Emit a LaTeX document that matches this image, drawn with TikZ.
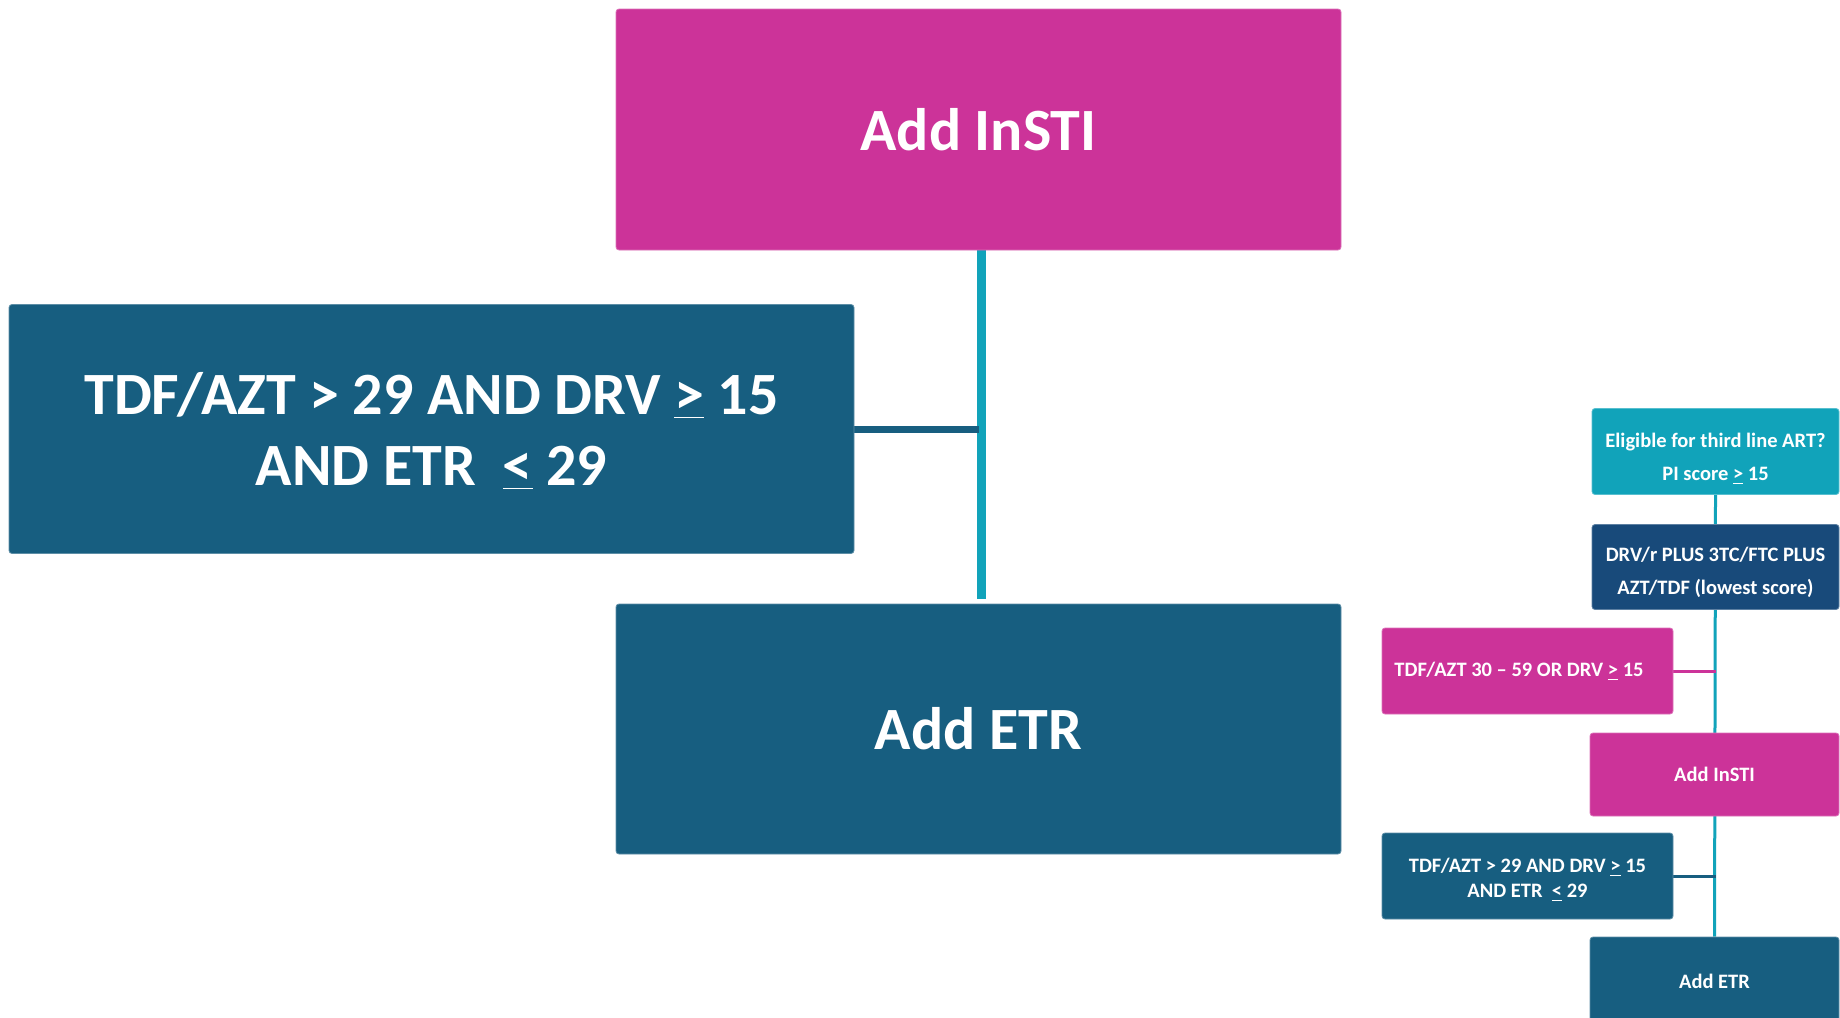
\documentclass[tikz,border=0pt]{standalone}
\usepackage{fontspec}
\setmainfont{Carlito}
\usetikzlibrary{backgrounds}
\definecolor{pinkc}{RGB}{204,51,153}
\definecolor{darkc}{RGB}{23,94,128}
\definecolor{navyc}{RGB}{24,74,122}
\definecolor{tealc}{RGB}{17,163,186}
\newcommand\dnshift[2]{\raisebox{-#1}[\height][\depth]{\begin{tabular}{@{}c@{}}#2\end{tabular}}}
\tikzset{
  box/.style={rectangle, rounded corners=1.5pt, inner sep=0pt, align=center, text=white},
  bigtxt/.style={font=\fontsize{30}{35.5}\selectfont\bfseries},
  smalltxt/.style={font=\fontsize{10.25}{12.5}\selectfont\bfseries},
  smalltxtw/.style={font=\fontsize{10.25}{16.5}\selectfont\bfseries},
  pinkbox/.style={box, fill=pinkc, draw=pinkc!70!white, line width=0.4pt},
  darkbox/.style={box, fill=darkc, draw=darkc!70!white, line width=0.4pt},
  navybox/.style={box, fill=navyc, draw=navyc!70!white, line width=0.4pt},
  tealbox/.style={box, fill=tealc, draw=tealc!70!white, line width=0.4pt},
}
\begin{document}
\begin{tikzpicture}[x=0.5pt, y=-0.5pt]
\clip (0,0) rectangle (1840,1017);
% big diagram
\node[pinkbox, bigtxt, minimum width=362.5pt, minimum height=120.5pt] (insti) at (978.5,129.5) {Add InSTI};
\node[darkbox, bigtxt, minimum width=422.5pt, minimum height=124.5pt] (cond) at (431.5,429) {\dnshift{3.6pt}{TDF/AZT > 29 AND DRV \underline{>} 15\\AND ETR \ \underline{<} 29}};
\node[darkbox, bigtxt, minimum width=362.5pt, minimum height=125pt] (etr) at (978.5,729) {Add ETR};
% small diagram
\node[tealbox, smalltxtw, minimum width=123.5pt, minimum height=43pt] (elig) at (1715.5,451.5) {\dnshift{2.8pt}{Eligible for third line ART?\\PI score \underline{>} 15}};
\node[navybox, smalltxtw, minimum width=123.5pt, minimum height=42.5pt] (drv) at (1715.5,567) {\dnshift{2.3pt}{DRV/r PLUS 3TC/FTC PLUS\\AZT/TDF (lowest score)}};
\node[pinkbox, smalltxt, minimum width=145.5pt, minimum height=43pt] (cond2) at (1527.5,671) {TDF/AZT 30 – 59 OR DRV \underline{>} 15\hspace*{8.5pt}};
\node[pinkbox, smalltxt, minimum width=124.5pt, minimum height=41.5pt] (insti2) at (1714.5,774.5) {Add InSTI};
\node[darkbox, smalltxt, minimum width=145.5pt, minimum height=43pt] (cond3) at (1527.5,876) {\dnshift{1.8pt}{TDF/AZT > 29 AND DRV \underline{>} 15\\AND ETR \ \underline{<} 29}};
\node[darkbox, smalltxt, minimum width=124.5pt, minimum height=44pt] (etr2) at (1714.5,981) {Add ETR};
\begin{scope}[on background layer]
\draw[tealc, line width=4.5pt, shorten >=2.5pt] ([xshift=1.5pt]insti.south) -- ([xshift=1.5pt]etr.north);
\draw[darkc, line width=3.5pt] (cond.east) -- (cond.east -| insti.south);
\draw[tealc, line width=1.5pt] (elig.south) -- (etr2.north);
\draw[pinkc, line width=1.5pt] (cond2.east) -- (cond2.east -| elig.south);
\draw[darkc, line width=1.5pt] (cond3.east) -- (cond3.east -| elig.south);
\end{scope}
\end{tikzpicture}
\end{document}
